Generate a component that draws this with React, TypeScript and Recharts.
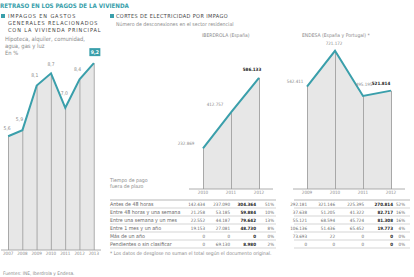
import React from 'react';
import { ComposedChart, Area, Bar, Line, XAxis, YAxis, LabelList } from 'recharts';

// ---------- data ----------
const housingYears = ['2007', '2008', '2009', '2010', '2011', '2012', '2013'];
const housingArrears = [5.6, 5.9, 8.1, 8.7, 7.0, 8.4, 9.2];

const iberdrolaYears = ['2010', '2011', '2012'];
const iberdrolaCuts = [232869, 412757, 586133];

const endesaYears = ['2009', '2010', '2011', '2012'];
const endesaCuts = [542411, 721172, 495195, 521814];

const delayBands = [
  'Antes de 48 horas',
  'Entre 48 horas y una semana',
  'Entre una semana y un mes',
  'Entre 1 mes y un año',
  'Más de un año',
  'Pendientes o sin clasificar',
];

const iberdrola2010 = [142434, 21258, 22552, 19153, 0, 0];
const iberdrola2011 = [237090, 53185, 44187, 27081, 0, 69130];
const iberdrola2012 = [304364, 59884, 79642, 48730, 0, 8980];
const iberdrolaShare = [51, 10, 13, 8, 0, 2];

const endesa2009 = [292181, 37638, 55121, 106136, 73693, 0];
const endesa2010 = [321146, 51205, 68594, 51436, 22, 0];
const endesa2011 = [225395, 41322, 45724, 65452, 0, 0];
const endesa2012 = [270814, 82717, 81308, 19773, 0, 0];
const endesaShare = [52, 16, 16, 4, 0, 0];

// ---------- style ----------
const TEAL = '#3a9fab';
const FONT = '"Liberation Sans Narrow", "DejaVu Sans Condensed", "Liberation Sans", Arial, sans-serif';
const GREY = '#8a8a8a';
const DARK = '#444';

const thousands = (n: number) => String(n).replace(/\B(?=(\d{3})+(?!\d))/g, '.');
const decimalComma = (n: number) => n.toFixed(1).replace('.', ',');

function makeLabel(
  offsets: number[][],
  format: (n: number) => string,
  count: number,
  size: number,
  lastStyle: 'bold' | 'box'
) {
  return (props: any) => {
    const { x, y, value, index } = props;
    const off = offsets[index] || [0, -8];
    const cx = x + off[0];
    const cy = y + off[1];
    const last = index === count - 1;
    if (last && lastStyle === 'box') {
      return (
        <g>
          <rect x={cx - 5.5} y={cy - 4} width={11} height={8} fill={TEAL} />
          <text x={cx} y={cy} textAnchor="middle" dominantBaseline="central" fontSize={size} fontWeight="bold" fill="#fff" fontFamily={FONT}>
            {format(value)}
          </text>
        </g>
      );
    }
    return (
      <text x={cx} y={cy} textAnchor="middle" dominantBaseline="central" fontSize={size} fontWeight={last ? 'bold' : 'normal'} fill={last ? '#222' : GREY} fontFamily={FONT}>
        {format(value)}
      </text>
    );
  };
}

function MiniChart(props: {
  years: string[];
  values: number[];
  domain: [number, number];
  left: number;
  top: number;
  width: number;
  height: number;
  margin: { top: number; right: number; bottom: number; left: number };
  offsets: number[][];
  format: (n: number) => string;
  lastStyle: 'bold' | 'box';
  labelSize: number;
}) {
  const data = props.years.map((y, i) => ({ year: y, v: props.values[i] }));
  return (
    <div style={{ position: 'absolute', left: props.left, top: props.top }}>
      <ComposedChart width={props.width} height={props.height} data={data} margin={props.margin}>
        <XAxis
          dataKey="year"
          height={10}
          interval={0}
          tickLine={false}
          tickSize={0}
          tickMargin={2}
          axisLine={{ stroke: '#9a9a9a', strokeWidth: 0.8 }}
          tick={{ fontSize: 4.5, fill: GREY, fontFamily: FONT }}
        />
        <YAxis hide domain={props.domain} allowDataOverflow />
        <Area dataKey="v" type="linear" stroke="none" fill="#e7e7e7" fillOpacity={1} isAnimationActive={false} />
        <Bar dataKey="v" barSize={1} fill="#a8a8a8" isAnimationActive={false} />
        <Line dataKey="v" type="linear" stroke={TEAL} strokeWidth={2} dot={false} isAnimationActive={false}>
          <LabelList dataKey="v" content={makeLabel(props.offsets, props.format, props.values.length, props.labelSize, props.lastStyle)} />
        </Line>
      </ComposedChart>
    </div>
  );
}

function T(p: { x: number; y: number; size?: number; color?: string; bold?: boolean; anchor?: string; ls?: number; children: any }) {
  return (
    <text
      x={p.x}
      y={p.y}
      fontSize={p.size || 5}
      fill={p.color || GREY}
      fontWeight={p.bold ? 'bold' : 'normal'}
      textAnchor={(p.anchor as any) || 'start'}
      dominantBaseline="central"
      fontFamily={FONT}
      letterSpacing={p.ls || 0}
    >
      {p.children}
    </text>
  );
}

export default function App() {
  const rowY = (i: number) => 204 + i * 8;
  const lineYs = [200, 208, 216, 224, 232, 240, 248];
  return (
    <div style={{ position: 'absolute', left: 0, top: 0, width: 414, height: 277, background: '#fff', overflow: 'hidden' }}>
      <MiniChart
        years={housingYears}
        values={housingArrears}
        domain={[0, 9.6]}
        left={1}
        top={40}
        width={100}
        height={220}
        margin={{ top: 15, right: 0, bottom: 0, left: 0 }}
        offsets={[[-1, -8], [-3, -11], [-2, -10], [0, -9], [-1, -15], [-2, -10], [1, -11]]}
        format={decimalComma}
        lastStyle="box"
        labelSize={5}
      />
      <MiniChart
        years={iberdrolaYears}
        values={iberdrolaCuts}
        domain={[30000, 775000]}
        left={164}
        top={30}
        width={109}
        height={169}
        margin={{ top: 10, right: 0, bottom: 0, left: 25 }}
        offsets={[[-17, -4.5], [-16, -8], [-7, -8]]}
        format={thousands}
        lastStyle="bold"
        labelSize={4.5}
      />
      <MiniChart
        years={endesaYears}
        values={endesaCuts}
        domain={[30000, 775000]}
        left={273}
        top={30}
        width={132}
        height={169}
        margin={{ top: 10, right: 0, bottom: 0, left: 20 }}
        offsets={[[-12, -5], [-1, -7], [1, -11], [-10, -7]]}
        format={thousands}
        lastStyle="bold"
        labelSize={4.5}
      />
      <svg width={414} height={277} style={{ position: 'absolute', left: 0, top: 0, pointerEvents: 'none' }}>
        <T x={0} y={5} size={6.2} bold color={TEAL}>RETRASO EN LOS PAGOS DE LA VIVIENDA</T>

        <rect x={1} y={14} width={4} height={4} fill={TEAL} />
        <T x={8} y={16} size={5.5} color={DARK} ls={0.9}>IMPAGOS EN GASTOS</T>
        <T x={8} y={23} size={5.5} color={DARK} ls={0.9}>GENERALES RELACIONADOS</T>
        <T x={8} y={30} size={5.5} color={DARK} ls={0.9}>CON LA VIVIENDA PRINCIPAL</T>
        <T x={5} y={39} size={5.8}>Hipoteca, alquiler, comunidad,</T>
        <T x={5} y={46} size={5.8}>agua, gas y luz</T>
        <T x={5} y={53} size={5.8}>En %</T>

        <rect x={110} y={14} width={4} height={4} fill={TEAL} />
        <T x={116} y={16} size={5.5} color={DARK} ls={0.4}>CORTES DE ELECTRICIDAD POR IMPAGO</T>
        <T x={116} y={24} size={5.2}>Número de desconexiones en el sector residencial</T>
        <T x={202} y={35} size={5}>IBERDROLA (España)</T>
        <T x={302} y={35} size={5}>ENDESA (España y Portugal) *</T>

        <T x={110} y={180} size={5.2}>Tiempo de pago</T>
        <T x={110} y={186} size={5.2}>fuera de plazo</T>

        {lineYs.map((y, i) => (
          <g key={'l' + i}>
            <line x1={110} x2={276} y1={y} y2={y} stroke={i === 0 ? '#888' : '#bbb'} strokeWidth={0.6} />
            <line x1={294} x2={410} y1={y} y2={y} stroke={i === 0 ? '#888' : '#bbb'} strokeWidth={0.6} />
          </g>
        ))}

        {delayBands.map((label, i) => (
          <g key={'r' + i}>
            <T x={110} y={rowY(i)} size={5.3} color="#666">{label}</T>
            <T x={205} y={rowY(i)} size={4.5} color="#666" anchor="end">{thousands(iberdrola2010[i])}</T>
            <T x={230} y={rowY(i)} size={4.5} color="#666" anchor="end">{thousands(iberdrola2011[i])}</T>
            <T x={256} y={rowY(i)} size={4.5} color="#222" bold anchor="end">{thousands(iberdrola2012[i])}</T>
            <T x={274} y={rowY(i)} size={4.5} color="#666" anchor="end">{iberdrolaShare[i] + '%'}</T>

            <T x={307} y={rowY(i)} size={4.5} color="#666" anchor="end">{thousands(endesa2009[i])}</T>
            <T x={335} y={rowY(i)} size={4.5} color="#666" anchor="end">{thousands(endesa2010[i])}</T>
            <T x={364} y={rowY(i)} size={4.5} color="#666" anchor="end">{thousands(endesa2011[i])}</T>
            <T x={393} y={rowY(i)} size={4.5} color="#222" bold anchor="end">{thousands(endesa2012[i])}</T>
            <T x={405} y={rowY(i)} size={4.5} color="#666" anchor="end">{endesaShare[i] + '%'}</T>
          </g>
        ))}

        <T x={110} y={253} size={5}>* Los datos de desglose no suman el total según el documento original.</T>
        <T x={3} y={273} size={4.8}>Fuentes: INE, Iberdrola y Endesa.</T>
      </svg>
    </div>
  );
}
